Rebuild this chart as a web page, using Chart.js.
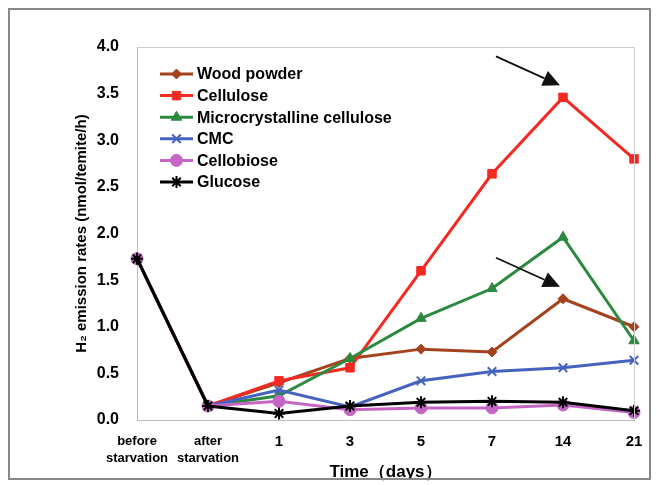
<!DOCTYPE html>
<html>
<head>
<meta charset="utf-8">
<script src="https://cdn.jsdelivr.net/npm/chart.js@4.4.1/dist/chart.umd.min.js"></script>
<style>
  html, body { margin: 0; padding: 0; background: #fff; }
  #wrap { position: relative; width: 657px; height: 485px; }
  #frame { position: absolute; left: 8px; top: 8px; width: 643px; height: 472px; border: 2px solid #888; box-sizing: border-box; pointer-events: none; }
</style>
</head>
<body>
<div id="wrap">
  <canvas id="chart" width="657" height="485"></canvas>
  <div id="frame"></div>
</div>
<script>
// categories (time points)
const timeLabels = [['before', 'starvation'], ['after', 'starvation'], '1', '3', '5', '7', '14', '21'];
const yTicks = [0, 0.5, 1.0, 1.5, 2.0, 2.5, 3.0, 3.5, 4.0];

// series values (nmol/termite/h)
const woodPowder = [1.73, 0.15, 0.40, 0.66, 0.76, 0.73, 1.30, 1.00];
const cellulose = [1.73, 0.15, 0.42, 0.56, 1.60, 2.64, 3.46, 2.80];
const microcrystalline = [1.73, 0.15, 0.26, 0.66, 1.09, 1.41, 1.96, 0.85];
const cmc = [1.73, 0.15, 0.32, 0.14, 0.42, 0.52, 0.56, 0.64];
const cellobiose = [1.73, 0.15, 0.20, 0.11, 0.13, 0.13, 0.16, 0.08];
const glucose = [1.73, 0.15, 0.07, 0.15, 0.19, 0.20, 0.19, 0.10];

// arrows point at the 14-day values of these series
const arrowTargets = [{ series: 1, index: 6 }, { series: 0, index: 6 }];

const FONT = '"Liberation Sans", Arial, sans-serif';

function makeSet(label, data, color, style, radius, order) {
    return {
        label: label,
        data: data,
        borderColor: color,
        backgroundColor: color,
        borderWidth: 3,
        pointStyle: style,
        pointRadius: radius,
        pointBorderWidth: style === 'crossRot' || style === 'star' ? 2 : 1,
        pointBackgroundColor: color,
        pointBorderColor: color,
        tension: 0,
        order: order
    };
}

// legend drawn inside the plot area, top left
const innerLegend = {
    id: 'innerLegend',
    afterDraw(chart) {
        const ctx = chart.ctx;
        const x0 = 160, y0 = 74, step = 21.6;
        ctx.save();
        ctx.font = 'bold 16px ' + FONT;
        ctx.textBaseline = 'middle';
        chart.data.datasets.forEach((ds, i) => {
            const y = y0 + i * step;
            ctx.strokeStyle = ds.borderColor;
            ctx.fillStyle = ds.borderColor;
            ctx.lineWidth = 3;
            ctx.beginPath();
            ctx.moveTo(x0, y);
            ctx.lineTo(x0 + 33, y);
            ctx.stroke();
            ctx.lineWidth = ds.pointBorderWidth;
            Chart.helpers.drawPoint(ctx, {
                pointStyle: ds.pointStyle,
                radius: ds.pointRadius,
                borderWidth: ds.pointBorderWidth,
                rotation: 0
            }, x0 + 16.5, y);
            ctx.fillStyle = '#000';
            ctx.fillText(ds.label, x0 + 37, y + 1);
        });
        ctx.restore();
    }
};

// black arrows pointing at the peak values
const peakArrows = {
    id: 'peakArrows',
    afterDatasetsDraw(chart) {
        const ctx = chart.ctx;
        ctx.save();
        arrowTargets.forEach(t => {
            const pt = chart.getDatasetMeta(t.series).data[t.index];
            const tipX = pt.x - 3, tipY = pt.y - 12;
            const tailX = tipX - 64, tailY = tipY - 29;
            const ang = Math.atan2(tipY - tailY, tipX - tailX);
            const headLen = 17, headW = 8;
            const bx = tipX - headLen * Math.cos(ang), by = tipY - headLen * Math.sin(ang);
            ctx.strokeStyle = '#111';
            ctx.lineWidth = 1.8;
            ctx.beginPath();
            ctx.moveTo(tailX, tailY);
            ctx.lineTo(bx, by);
            ctx.stroke();
            ctx.fillStyle = '#111';
            ctx.beginPath();
            ctx.moveTo(tipX, tipY);
            ctx.lineTo(bx + headW * Math.sin(ang), by - headW * Math.cos(ang));
            ctx.lineTo(bx - headW * Math.sin(ang), by + headW * Math.cos(ang));
            ctx.closePath();
            ctx.fill();
        });
        ctx.restore();
    }
};

new Chart(document.getElementById('chart'), {
    type: 'line',
    data: {
        labels: timeLabels,
        datasets: [
            makeSet('Wood powder', woodPowder, '#A5421E', 'rectRot', 5, 5),
            makeSet('Cellulose', cellulose, '#F42A22', 'rect', 6, 4),
            makeSet('Microcrystalline cellulose', microcrystalline, '#2C8A3F', 'triangle', 6, 3),
            makeSet('CMC', cmc, '#4563BE', 'crossRot', 6, 2),
            makeSet('Cellobiose', cellobiose, '#C565C4', 'circle', 6, 1),
            makeSet('Glucose', glucose, '#000000', 'star', 6, 0)
        ]
    },
    options: {
        responsive: false,
        animation: false,
        layout: { padding: { left: 0, right: 23, top: 47, bottom: 0 } },
        plugins: {
            legend: { display: false },
            tooltip: { enabled: false }
        },
        scales: {
            x: {
                offset: false,
                grid: { display: false, drawTicks: false },
                border: { color: '#bbb', width: 1 },
                ticks: {
                    color: '#000',
                    font: function (c) {
                        const twoLine = Array.isArray(timeLabels[c.index]);
                        return { family: FONT, size: twoLine ? 13 : 15, weight: 'bold', lineHeight: twoLine ? 1.3 : 1.2 };
                    },
                    padding: 13,
                    maxRotation: 0,
                    autoSkip: false
                },
                title: {
                    display: true,
                    text: 'Time（days）',
                    color: '#000',
                    font: { family: FONT, size: 17, weight: 'bold' },
                    padding: { top: 0, bottom: 2 }
                },
                afterFit(scale) { scale.height = 65; }
            },
            y: {
                min: 0,
                max: 4,
                grid: { display: false, drawTicks: true, tickLength: 4, tickColor: '#ccc' },
                border: { color: '#bbb', width: 1 },
                ticks: {
                    stepSize: 0.5,
                    color: '#000',
                    font: { family: FONT, size: 16, weight: 'bold' },
                    padding: 14,
                    callback: function (v) { return yTicks.includes(v) ? v.toFixed(1) : ''; }
                },
                title: {
                    display: true,
                    text: 'H₂ emission rates (nmol/temite/h)',
                    color: '#000',
                    font: { family: FONT, size: 15, weight: 'bold' },
                    padding: { top: 73, bottom: 0 }
                },
                afterFit(scale) { scale.width = 137; }
            }
        }
    },
    plugins: [innerLegend, peakArrows, {
        id: 'topRightBorder',
        afterDraw(chart) {
            const a = chart.chartArea, ctx = chart.ctx;
            ctx.save();
            ctx.strokeStyle = '#ccc';
            ctx.lineWidth = 1;
            ctx.beginPath();
            ctx.moveTo(a.left, a.top + 0.5);
            ctx.lineTo(a.right + 0.5, a.top + 0.5);
            ctx.lineTo(a.right + 0.5, a.bottom);
            ctx.stroke();
            ctx.restore();
        }
    }]
});
</script>
</body>
</html>
